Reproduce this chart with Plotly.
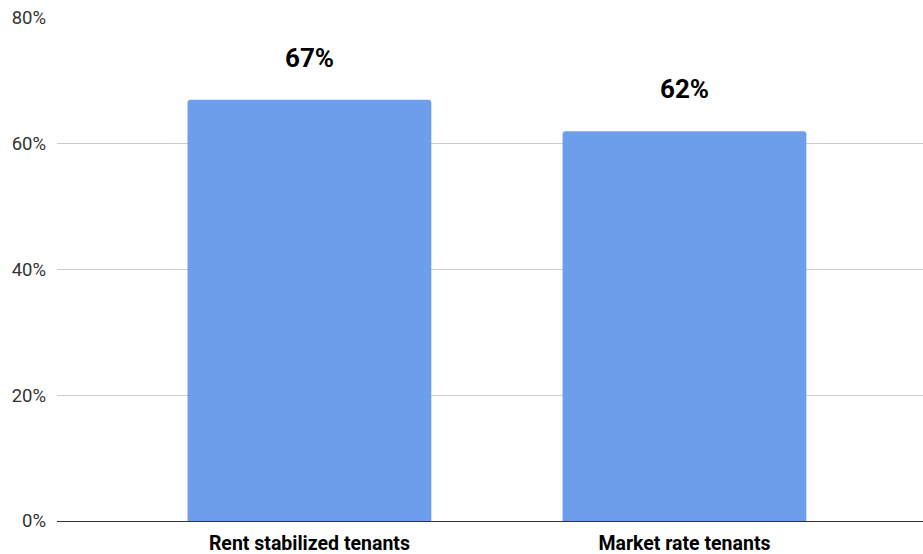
import plotly.graph_objects as go

categories = ["Rent stabilized tenants", "Market rate tenants"]
values = [67, 62]
y_ticks = [0, 20, 40, 60, 80]

BAR_COLOR = "#6d9eeb"

fig = go.Figure(
    go.Bar(
        x=categories,
        y=values,
        marker=dict(color=BAR_COLOR, cornerradius=3, line=dict(width=0)),
        width=0.65,
        hoverinfo="skip",
    )
)

# value labels above each bar
for cat, val in zip(categories, values):
    fig.add_annotation(
        x=cat, y=val, text=f"<b>{val}%</b>", showarrow=False,
        yanchor="middle", yshift=42,
        font=dict(family="Roboto", size=26, color="#000000"),
    )

fig.update_layout(
    width=923, height=554,
    margin=dict(l=57, r=0, t=18, b=33),
    paper_bgcolor="white", plot_bgcolor="white",
    showlegend=False,
    font=dict(family="Roboto", color="#333333"),
    xaxis=dict(
        type="category",
        range=[-0.673, 1.636],
        showgrid=False, zeroline=False, showline=False,
        ticks="", ticklabelstandoff=8,
        tickfont=dict(family="Roboto", size=19.5, color="#000000", weight="bold"),
    ),
    yaxis=dict(
        range=[0, 80],
        tickvals=y_ticks, ticktext=[f"{v}%" for v in y_ticks],
        showgrid=True, gridcolor="#cccccc", gridwidth=1,
        zeroline=True, zerolinecolor="#333333", zerolinewidth=1,
        showline=False, ticks="", ticklabelstandoff=10,
        tickfont=dict(family="Roboto", size=18.5, color="#333333"),
    ),
)

fig.write_html("out.html")
